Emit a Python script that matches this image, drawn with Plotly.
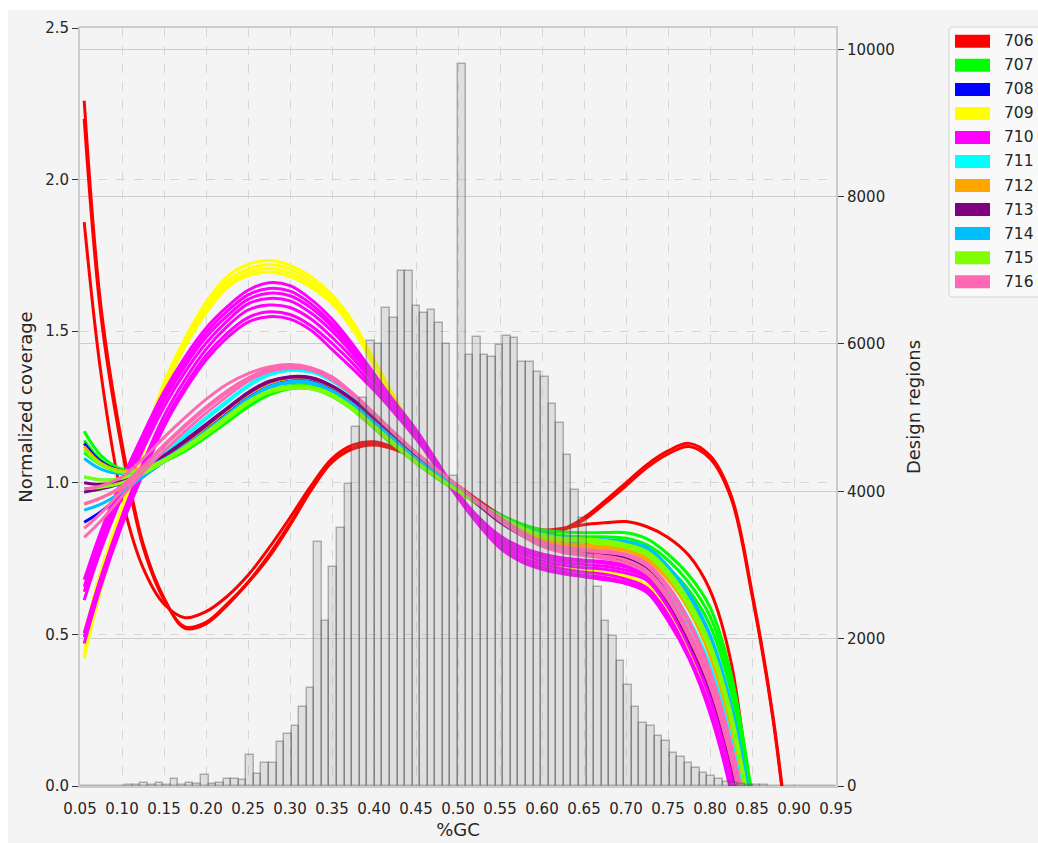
import plotly.graph_objects as go

# %GC positions at which each coverage curve is sampled
GC_GRID = [0.055, 0.075, 0.100, 0.125, 0.150, 0.175, 0.200, 0.225, 0.250, 0.275,
           0.300, 0.325, 0.350, 0.375, 0.400, 0.425, 0.450, 0.475, 0.500, 0.525,
           0.550, 0.575, 0.600, 0.625, 0.650, 0.675, 0.700, 0.725, 0.750, 0.775,
           0.800, 0.825, 0.850, 0.875, 0.900]

SAMPLES = ["706", "707", "708", "709", "710", "711", "712", "713", "714", "715", "716"]
SAMPLE_COLORS = ["#ff0000", "#00ff00", "#0000ff", "#ffff00", "#ff00ff", "#00ffff",
                 "#ffa500", "#800080", "#00bfff", "#7fff00", "#ff69b4"]

# Normalized coverage curves, one list per library of each sample
COV_706 = [
    [2.26, 1.58, 1.13, 0.80, 0.62, 0.52, 0.535, 0.595, 0.67, 0.755, 0.86, 0.975, 1.07, 1.115, 1.13, 1.115, 1.085, 1.04,
     0.99, 0.94, 0.895, 0.86, 0.842, 0.848, 0.885, 0.94, 1.0, 1.06, 1.105, 1.13, 1.09, 0.96, 0.64, 0.23, -0.35],
    [2.20, 1.55, 1.11, 0.79, 0.615, 0.525, 0.54, 0.60, 0.672, 0.762, 0.866, 0.978, 1.068, 1.112, 1.125, 1.11, 1.08, 1.035,
     0.988, 0.94, 0.893, 0.858, 0.84, 0.845, 0.878, 0.932, 0.99, 1.05, 1.095, 1.12, 1.08, 0.95, 0.63, 0.22, -0.36],
    [1.86, 1.36, 0.95, 0.72, 0.60, 0.555, 0.575, 0.625, 0.695, 0.785, 0.885, 0.99, 1.08, 1.125, 1.135, 1.115, 1.08, 1.035,
     0.99, 0.94, 0.893, 0.86, 0.845, 0.85, 0.862, 0.868, 0.872, 0.855, 0.82, 0.76, 0.646, 0.41, -0.10, -0.75],
]
COV_707 = [
    [1.17, 1.09, 1.045, 1.045, 1.07, 1.105, 1.15, 1.20, 1.25, 1.29, 1.31, 1.31, 1.285, 1.24, 1.18, 1.12, 1.065,
     1.015, 0.97, 0.93, 0.895, 0.865, 0.845, 0.838, 0.835, 0.836, 0.835, 0.815, 0.765, 0.695, 0.59, 0.37, -0.03, -0.55],
    [1.14, 1.075, 1.04, 1.045, 1.072, 1.11, 1.155, 1.205, 1.255, 1.295, 1.315, 1.315, 1.29, 1.245, 1.185, 1.125, 1.07,
     1.02, 0.975, 0.93, 0.89, 0.858, 0.836, 0.826, 0.822, 0.822, 0.817, 0.795, 0.745, 0.67, 0.56, 0.34, -0.05, -0.58],
    [1.10, 1.06, 1.035, 1.045, 1.075, 1.115, 1.16, 1.21, 1.26, 1.30, 1.32, 1.32, 1.295, 1.25, 1.19, 1.13, 1.072,
     1.02, 0.975, 0.93, 0.886, 0.852, 0.83, 0.818, 0.812, 0.808, 0.802, 0.777, 0.72, 0.645, 0.53, 0.31, -0.07, -0.60],
]
COV_708 = [
    [1.13, 1.07, 1.04, 1.05, 1.08, 1.125, 1.175, 1.228, 1.28, 1.318, 1.335, 1.333, 1.305, 1.26, 1.20, 1.14, 1.08,
     1.03, 0.98, 0.93, 0.888, 0.852, 0.83, 0.815, 0.81, 0.805, 0.797, 0.772, 0.71, 0.62, 0.49, 0.26, -0.10, -0.60],
    [0.87, 0.905, 0.96, 1.02, 1.07, 1.12, 1.172, 1.226, 1.278, 1.318, 1.337, 1.335, 1.307, 1.262, 1.202, 1.142, 1.082,
     1.03, 0.98, 0.93, 0.885, 0.85, 0.825, 0.81, 0.805, 0.80, 0.792, 0.767, 0.70, 0.605, 0.47, 0.24, -0.12, -0.62],
]
COV_709 = [
    [0.47, 0.69, 0.91, 1.12, 1.33, 1.475, 1.595, 1.68, 1.72, 1.733, 1.717, 1.68, 1.62, 1.53, 1.405, 1.28, 1.16,
     1.055, 0.965, 0.88, 0.81, 0.765, 0.738, 0.722, 0.712, 0.705, 0.692, 0.662, 0.57, 0.44, 0.27, 0.02, -0.38, -0.95],
    [0.44, 0.67, 0.895, 1.11, 1.315, 1.46, 1.58, 1.665, 1.705, 1.72, 1.705, 1.668, 1.61, 1.52, 1.397, 1.275, 1.155,
     1.052, 0.962, 0.877, 0.805, 0.76, 0.735, 0.72, 0.708, 0.70, 0.687, 0.657, 0.565, 0.435, 0.26, 0.01, -0.40, -0.95],
    [0.42, 0.65, 0.88, 1.10, 1.305, 1.45, 1.568, 1.653, 1.693, 1.707, 1.692, 1.655, 1.60, 1.51, 1.39, 1.27, 1.15,
     1.05, 0.96, 0.875, 0.80, 0.756, 0.732, 0.716, 0.705, 0.695, 0.682, 0.652, 0.56, 0.43, 0.25, 0.00, -0.40, -0.95],
    [0.50, 0.71, 0.92, 1.12, 1.31, 1.45, 1.56, 1.643, 1.683, 1.695, 1.68, 1.645, 1.592, 1.505, 1.386, 1.268, 1.15,
     1.05, 0.96, 0.877, 0.805, 0.76, 0.737, 0.72, 0.71, 0.705, 0.692, 0.662, 0.57, 0.44, 0.27, 0.02, -0.38, -0.95],
]
COV_710 = [
    [0.68, 0.84, 1.01, 1.16, 1.30, 1.415, 1.51, 1.58, 1.635, 1.66, 1.65, 1.605, 1.54, 1.455, 1.36, 1.265, 1.175,
     1.07, 0.965, 0.885, 0.825, 0.788, 0.765, 0.752, 0.745, 0.74, 0.728, 0.70, 0.62, 0.49, 0.32, 0.07, -0.32, -0.90],
    [0.657, 0.82, 0.99, 1.145, 1.285, 1.40, 1.495, 1.565, 1.62, 1.641, 1.632, 1.59, 1.525, 1.445, 1.352, 1.26, 1.172,
     1.068, 0.962, 0.88, 0.818, 0.782, 0.758, 0.746, 0.74, 0.735, 0.722, 0.695, 0.61, 0.48, 0.31, 0.06, -0.33, -0.90],
    [0.641, 0.80, 0.975, 1.13, 1.27, 1.385, 1.48, 1.55, 1.605, 1.625, 1.617, 1.577, 1.515, 1.437, 1.347, 1.256, 1.17,
     1.066, 0.96, 0.876, 0.81, 0.774, 0.752, 0.738, 0.73, 0.725, 0.712, 0.688, 0.60, 0.47, 0.30, 0.05, -0.34, -0.90],
    [0.613, 0.78, 0.955, 1.11, 1.25, 1.365, 1.46, 1.533, 1.59, 1.608, 1.60, 1.56, 1.50, 1.425, 1.34, 1.252, 1.165,
     1.063, 0.958, 0.872, 0.805, 0.766, 0.742, 0.728, 0.72, 0.715, 0.702, 0.678, 0.59, 0.46, 0.29, 0.04, -0.35, -0.90],
    [0.504, 0.69, 0.89, 1.065, 1.22, 1.34, 1.44, 1.515, 1.57, 1.586, 1.578, 1.54, 1.48, 1.41, 1.33, 1.245, 1.16,
     1.06, 0.955, 0.867, 0.797, 0.756, 0.732, 0.716, 0.705, 0.698, 0.682, 0.653, 0.565, 0.43, 0.26, 0.00, -0.40, -0.95],
    [0.49, 0.68, 0.88, 1.05, 1.20, 1.32, 1.42, 1.493, 1.545, 1.564, 1.555, 1.518, 1.46, 1.393, 1.315, 1.233, 1.15,
     1.055, 0.952, 0.862, 0.79, 0.747, 0.722, 0.706, 0.695, 0.688, 0.672, 0.645, 0.55, 0.425, 0.25, -0.01, -0.40, -0.95],
    [0.47, 0.66, 0.86, 1.03, 1.185, 1.305, 1.405, 1.478, 1.53, 1.548, 1.54, 1.503, 1.44, 1.375, 1.305, 1.228, 1.145,
     1.05, 0.95, 0.86, 0.785, 0.74, 0.715, 0.70, 0.69, 0.68, 0.667, 0.638, 0.545, 0.42, 0.24, -0.02, -0.42, -0.95],
]
COV_711 = [
    [1.02, 1.01, 1.015, 1.05, 1.10, 1.158, 1.215, 1.27, 1.322, 1.36, 1.375, 1.37, 1.34, 1.29, 1.225, 1.16, 1.095,
     1.04, 0.985, 0.93, 0.875, 0.83, 0.795, 0.772, 0.762, 0.755, 0.746, 0.714, 0.64, 0.53, 0.38, 0.15, -0.18, -0.65],
    [0.97, 0.98, 1.00, 1.045, 1.095, 1.152, 1.21, 1.265, 1.318, 1.355, 1.37, 1.365, 1.335, 1.286, 1.222, 1.157, 1.092,
     1.038, 0.985, 0.932, 0.88, 0.838, 0.80, 0.78, 0.77, 0.765, 0.756, 0.729, 0.66, 0.55, 0.40, 0.17, -0.16, -0.62],
]
COV_712 = [
    [1.12, 1.065, 1.04, 1.05, 1.088, 1.135, 1.185, 1.24, 1.292, 1.328, 1.345, 1.343, 1.315, 1.27, 1.21, 1.148, 1.088,
     1.032, 0.98, 0.93, 0.884, 0.845, 0.818, 0.80, 0.795, 0.79, 0.781, 0.754, 0.69, 0.59, 0.44, 0.21, -0.12, -0.60],
    [0.93, 0.95, 0.985, 1.03, 1.08, 1.132, 1.185, 1.24, 1.295, 1.332, 1.348, 1.346, 1.318, 1.272, 1.212, 1.15, 1.09,
     1.032, 0.98, 0.928, 0.88, 0.842, 0.812, 0.795, 0.788, 0.783, 0.776, 0.746, 0.68, 0.58, 0.43, 0.20, -0.13, -0.60],
]
COV_713 = [
    [0.97, 0.98, 1.00, 1.04, 1.085, 1.135, 1.188, 1.243, 1.295, 1.332, 1.348, 1.345, 1.318, 1.272, 1.212, 1.15, 1.088,
     1.032, 0.98, 0.926, 0.875, 0.832, 0.80, 0.783, 0.775, 0.765, 0.75, 0.715, 0.63, 0.50, 0.34, 0.10, -0.25, -0.70],
    [1.00, 0.995, 1.005, 1.04, 1.09, 1.14, 1.193, 1.246, 1.298, 1.335, 1.35, 1.347, 1.32, 1.274, 1.213, 1.15, 1.088,
     1.032, 0.98, 0.925, 0.87, 0.828, 0.795, 0.775, 0.765, 0.755, 0.74, 0.70, 0.61, 0.48, 0.32, 0.08, -0.27, -0.72],
]
COV_714 = [
    [1.08, 1.045, 1.03, 1.045, 1.078, 1.122, 1.17, 1.222, 1.275, 1.313, 1.33, 1.328, 1.30, 1.256, 1.198, 1.14, 1.08,
     1.03, 0.98, 0.932, 0.89, 0.855, 0.832, 0.82, 0.815, 0.812, 0.807, 0.788, 0.725, 0.635, 0.50, 0.27, -0.08, -0.58],
    [0.91, 0.93, 0.97, 1.02, 1.07, 1.12, 1.17, 1.225, 1.278, 1.317, 1.334, 1.332, 1.303, 1.258, 1.20, 1.14, 1.08,
     1.03, 0.98, 0.93, 0.886, 0.852, 0.828, 0.815, 0.81, 0.805, 0.797, 0.775, 0.71, 0.62, 0.48, 0.25, -0.10, -0.60],
]
COV_715 = [
    [1.11, 1.06, 1.035, 1.045, 1.075, 1.112, 1.158, 1.21, 1.262, 1.298, 1.312, 1.31, 1.287, 1.242, 1.183, 1.123, 1.067,
     1.018, 0.972, 0.93, 0.89, 0.855, 0.83, 0.818, 0.815, 0.81, 0.797, 0.773, 0.71, 0.61, 0.47, 0.24, -0.12, -0.60],
    [1.02, 1.01, 1.015, 1.04, 1.075, 1.118, 1.166, 1.218, 1.268, 1.303, 1.318, 1.316, 1.292, 1.247, 1.188, 1.128, 1.07,
     1.02, 0.975, 0.93, 0.885, 0.85, 0.822, 0.81, 0.805, 0.798, 0.787, 0.761, 0.695, 0.59, 0.45, 0.22, -0.13, -0.62],
    [0.98, 0.985, 1.00, 1.03, 1.07, 1.115, 1.164, 1.216, 1.266, 1.302, 1.316, 1.314, 1.29, 1.245, 1.187, 1.127, 1.07,
     1.02, 0.975, 0.93, 0.885, 0.85, 0.825, 0.812, 0.808, 0.802, 0.792, 0.768, 0.70, 0.60, 0.46, 0.23, -0.12, -0.60],
]
COV_716 = [
    [0.98, 0.99, 1.02, 1.08, 1.15, 1.215, 1.275, 1.325, 1.36, 1.382, 1.39, 1.38, 1.35, 1.295, 1.23, 1.163, 1.10,
     1.043, 0.99, 0.935, 0.885, 0.84, 0.805, 0.788, 0.78, 0.775, 0.765, 0.735, 0.66, 0.545, 0.38, 0.14, -0.20, -0.68],
    [0.85, 0.90, 0.975, 1.05, 1.12, 1.185, 1.245, 1.298, 1.345, 1.375, 1.385, 1.377, 1.345, 1.293, 1.228, 1.162, 1.10,
     1.043, 0.99, 0.933, 0.88, 0.835, 0.80, 0.782, 0.775, 0.77, 0.76, 0.727, 0.65, 0.535, 0.37, 0.13, -0.21, -0.70],
    [0.82, 0.875, 0.955, 1.035, 1.105, 1.17, 1.23, 1.285, 1.335, 1.367, 1.378, 1.372, 1.34, 1.289, 1.225, 1.16, 1.097,
     1.042, 0.99, 0.932, 0.88, 0.832, 0.795, 0.775, 0.765, 0.758, 0.745, 0.71, 0.63, 0.51, 0.35, 0.11, -0.23, -0.72],
    [0.93, 0.95, 0.99, 1.055, 1.125, 1.19, 1.25, 1.303, 1.345, 1.372, 1.382, 1.375, 1.343, 1.291, 1.226, 1.161, 1.098,
     1.042, 0.99, 0.93, 0.875, 0.828, 0.79, 0.77, 0.76, 0.75, 0.735, 0.70, 0.615, 0.49, 0.33, 0.09, -0.25, -0.72],
]
COVERAGE = [COV_706, COV_707, COV_708, COV_709, COV_710, COV_711,
            COV_712, COV_713, COV_714, COV_715, COV_716]

# Design-region %GC histogram: 100 bins of width 0.009 starting at 0.05
HIST_START = 0.05
HIST_WIDTH = 0.009
HIST_COUNTS = [
    0, 0, 0, 0, 0, 0, 20, 15, 45, 10,
    40, 20, 100, 10, 40, 25, 145, 25, 35, 95,
    100, 75, 420, 165, 315, 315, 600, 700, 814, 1067,
    1335, 3316, 2246, 2966, 3502, 4096, 4875, 5265, 6034, 5996,
    6483, 6351, 6984, 6984, 6521, 6414, 6463, 6278, 5996, 4208,
    9800, 5857, 6097, 5848, 5817, 5980, 6106, 6075, 5757, 5757,
    5613, 5554, 5179, 4930, 4491, 4016, 3632, 3150, 2700, 2243,
    2040, 1696, 1366, 1076, 859, 814, 683, 615, 452, 389,
    316, 240, 172, 140, 95, 60, 35, 25, 15, 15,
    10, 5, 0, 0, 0, 0, 0, 0, 0, 0,
]

X_TICKS = [round(0.05 + 0.05 * i, 2) for i in range(19)]

FONT = "DejaVu Sans"
TEXT = "#262626"
W, H = 1038, 843
ML, MR, MT, MB = 80, 202, 28, 57


def px_x(px):
    return (px - ML) / (W - ML - MR)


def px_y(py):
    return (H - MB - py) / (H - MT - MB)


fig = go.Figure()

for name, color, curves in zip(SAMPLES, SAMPLE_COLORS, COVERAGE):
    for vals in curves:
        fig.add_trace(go.Scatter(
            x=GC_GRID[:len(vals)], y=vals, mode="lines",
            line=dict(color=color, width=3, shape="spline", smoothing=1.0),
            name=name, legendgroup=name, showlegend=False, hoverinfo="skip",
        ))

bin_centers = [HIST_START + HIST_WIDTH * (k + 0.5) for k in range(len(HIST_COUNTS))]
fig.add_trace(go.Bar(
    x=bin_centers, y=HIST_COUNTS, width=HIST_WIDTH, yaxis="y2",
    marker=dict(color="rgba(150,150,150,0.22)",
                line=dict(color="rgba(70,70,70,0.38)", width=1.5)),
    showlegend=False, hoverinfo="skip",
))

shapes = [
    # figure background panel
    dict(type="rect", xref="paper", yref="paper", layer="below",
         x0=px_x(8), x1=px_x(W), y0=px_y(H), y1=px_y(10),
         fillcolor="#f4f4f4", line=dict(width=0)),
]


def P(px, py):
    return f"{px_x(px):.5f},{px_y(py):.5f}"


# legend frame
shapes.append(dict(
    type="path", xref="paper", yref="paper",
    path=(f"M {P(953, 27)} L {P(1060, 27)} L {P(1060, 297)} L {P(953, 297)} "
          f"Q {P(949, 297)} {P(949, 293)} L {P(949, 31)} Q {P(949, 27)} {P(953, 27)} Z"),
    fillcolor="#f9f9f9", line=dict(color="#d2d2d2", width=1),
))

annotations = []
for i, (name, color) in enumerate(zip(SAMPLES, SAMPLE_COLORS)):
    yc = 41.3 + 24.04 * i
    shapes.append(dict(type="rect", xref="paper", yref="paper",
                       x0=px_x(955), x1=px_x(990), y0=px_y(yc + 6.5), y1=px_y(yc - 6.5),
                       fillcolor=color, line=dict(width=0)))
    annotations.append(dict(xref="paper", yref="paper", x=px_x(1002), y=px_y(yc),
                            xanchor="left", yanchor="middle", text=name, showarrow=False,
                            font=dict(family=FONT, size=15.5, color=TEXT)))

grid_dash = "#d6d6d6"
fig.update_layout(
    width=W, height=H,
    margin=dict(l=ML, r=MR, t=MT, b=MB, pad=0, autoexpand=False),
    paper_bgcolor="white", plot_bgcolor="#f4f4f4",
    font=dict(family=FONT, size=15, color=TEXT),
    bargap=0, showlegend=False,
    shapes=shapes, annotations=annotations,
    xaxis=dict(
        range=[0.05, 0.95], tickmode="array", tickvals=X_TICKS,
        ticktext=[f"{v:.2f}" for v in X_TICKS],
        ticks="outside", ticklen=8, tickcolor="rgba(0,0,0,0)",
        showgrid=True, gridcolor=grid_dash, griddash="dash", gridwidth=1,
        showline=True, linecolor="#cccccc", linewidth=2, mirror=True,
        zeroline=False, automargin=False, title=dict(text="%GC", standoff=6),
        tickfont=dict(size=15),
    ),
    yaxis=dict(
        range=[0, 2.5], tickmode="linear", tick0=0, dtick=0.5, tickformat=".1f",
        ticks="outside", ticklen=6, tickwidth=1.3, tickcolor="#333333",
        showgrid=True, gridcolor=grid_dash, griddash="dash", gridwidth=1,
        showline=True, linecolor="#cccccc", linewidth=2, mirror=True,
        zeroline=False, automargin=False,
        title=dict(text="Normalized coverage", standoff=8),
        tickfont=dict(size=15),
    ),
    yaxis2=dict(
        overlaying="y", side="right", anchor="x",
        range=[0, 10289], tickmode="linear", tick0=0, dtick=2000, tickformat="d",
        ticks="outside", ticklen=6, tickwidth=1.3, tickcolor="#333333",
        showgrid=True, gridcolor="#cdcdcd", gridwidth=1.2,
        showline=True, linecolor="#cccccc", linewidth=2,
        zeroline=False, automargin=False,
        title=dict(text="Design regions", standoff=14),
        tickfont=dict(size=15),
    ),
)

fig.write_html("out.html")
